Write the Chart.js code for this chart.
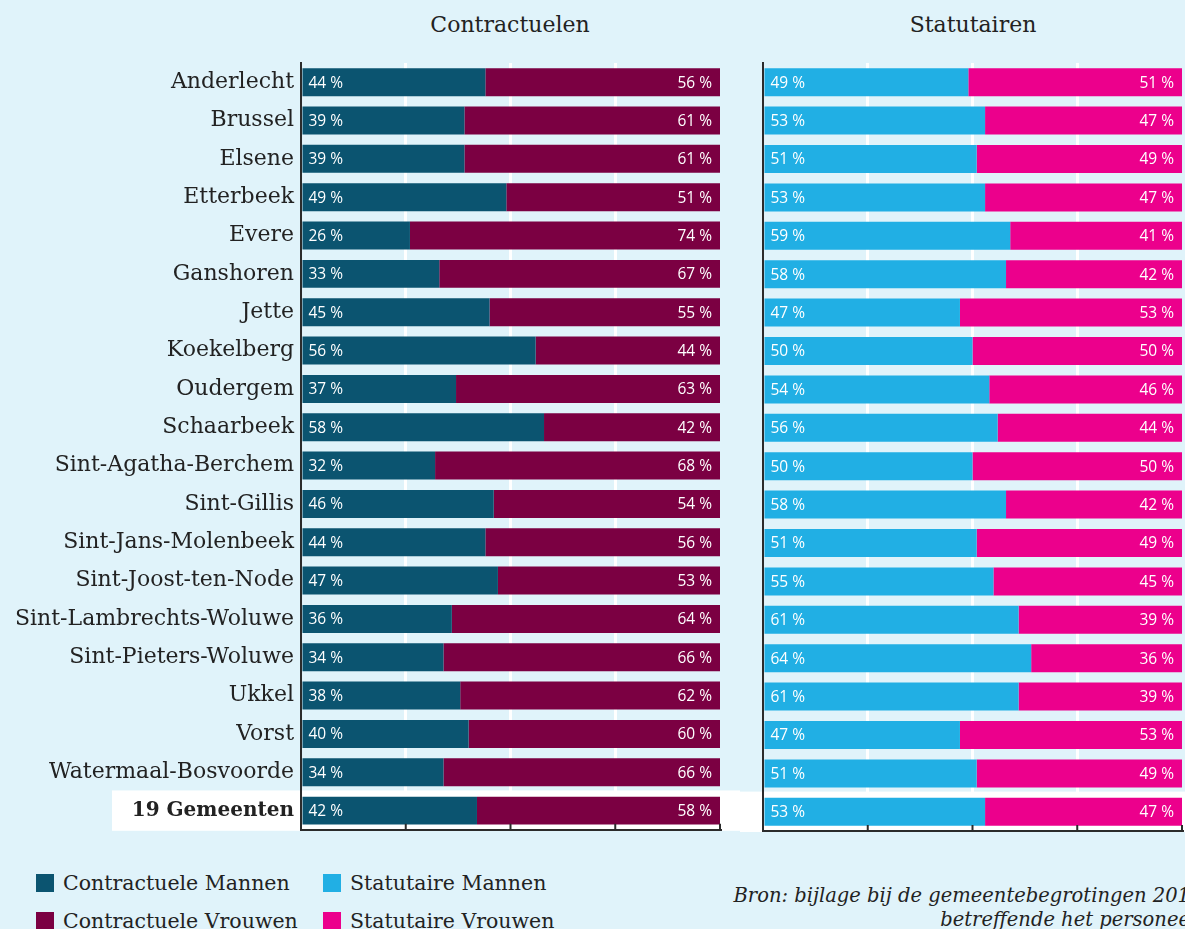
<!DOCTYPE html>
<html>
<head>
<meta charset="utf-8">
<script src="https://cdn.jsdelivr.net/npm/chart.js@4/dist/chart.umd.min.js"></script>
<style>
  html, body { margin: 0; padding: 0; }
  body { width: 1185px; height: 929px; background: #e0f3fa; position: relative; overflow: hidden; font-family: 'DejaVu Serif', serif; color: #222; }
  .wrap { position: absolute; top: 0; }
  .title { position: absolute; top: 11px; font-size: 22px; line-height: 28px; transform: translateX(-50%); white-space: nowrap; }
  .legend { position: absolute; font-size: 20.5px; line-height: 26px; white-space: nowrap; }
  .legend span.box { display: inline-block; width: 18px; height: 18px; vertical-align: -2px; margin-right: 9px; }
  .source { position: absolute; right: -5px; font-style: italic; font-size: 19.5px; text-align: right; line-height: 24px; white-space: nowrap; }
</style>
</head>
<body>
<div class="title" style="left:510px">Contractuelen</div>
<div class="title" style="left:973px">Statutairen</div>
<div class="wrap" style="left:0;width:740px;height:850px"><canvas id="leftChart"></canvas></div>
<div class="wrap" style="left:740px;width:445px;height:850px"><canvas id="rightChart"></canvas></div>
<div id="legend"></div>
<div class="source" style="top:884px">Bron: bijlage bij de gemeentebegrotingen 201<br>betreffende het personee</div>
<script>
var gemeenten = ['Anderlecht', 'Brussel', 'Elsene', 'Etterbeek', 'Evere', 'Ganshoren', 'Jette', 'Koekelberg',
                 'Oudergem', 'Schaarbeek', 'Sint-Agatha-Berchem', 'Sint-Gillis', 'Sint-Jans-Molenbeek',
                 'Sint-Joost-ten-Node', 'Sint-Lambrechts-Woluwe', 'Sint-Pieters-Woluwe', 'Ukkel', 'Vorst',
                 'Watermaal-Bosvoorde', '19 Gemeenten'];
var contractueleMannen  = [44, 39, 39, 49, 26, 33, 45, 56, 37, 58, 32, 46, 44, 47, 36, 34, 38, 40, 34, 42];
var contractueleVrouwen = [56, 61, 61, 51, 74, 67, 55, 44, 63, 42, 68, 54, 56, 53, 64, 66, 62, 60, 66, 58];
var statutaireMannen    = [49, 53, 51, 53, 59, 58, 47, 50, 54, 56, 50, 58, 51, 55, 61, 64, 61, 47, 51, 53];
var statutaireVrouwen   = [51, 47, 49, 47, 41, 42, 53, 50, 46, 44, 50, 42, 49, 45, 39, 36, 39, 53, 49, 47];
var xTicks = [0, 25, 50, 75, 100];

var COLORS = {
   contractMan: '#0b5470',
   contractWoman: '#7b0042',
   statMan: '#21afe4',
   statWoman: '#ec008c'
};
var AXIS = '#2b2b2b';

// white band behind the totals row
var totalBand = function totalBand(bandLeft) {
   return {
      id: 'totalBand',
      beforeDraw: function(chart) {
         var y = chart.scales.y;
         var step = (chart.chartArea.bottom - chart.chartArea.top) / gemeenten.length;
         var center = y.getPixelForValue(gemeenten.length - 1);
         var ctx = chart.ctx;
         ctx.save();
         ctx.fillStyle = '#ffffff';
         ctx.fillRect(bandLeft, center - step / 2 - 1, chart.width - bandLeft, chart.chartArea.bottom - center + step / 2 + 2);
         ctx.restore();
      }
   };
};

// percentage labels inside bars + inward tick marks
var barLabels = {
   id: 'barLabels',
   afterDatasetsDraw: function(chart) {
      var ctx = chart.ctx;
      ctx.save();
      ctx.font = '15.5px "Open Sans", sans-serif';
      ctx.fillStyle = '#ffffff';
      ctx.textBaseline = 'middle';
      chart.data.datasets.forEach(function(dataset, di) {
         chart.getDatasetMeta(di).data.forEach(function(bar, i) {
            var text = dataset.data[i] + ' %';
            if (di === 0) {
               ctx.textAlign = 'left';
               ctx.fillText(text, bar.base + 6, bar.y + 1);
            } else {
               ctx.textAlign = 'right';
               ctx.fillText(text, bar.x - 8, bar.y + 1);
            }
         });
      });
      ctx.restore();
   },
   afterDraw: function(chart) {
      var ctx = chart.ctx;
      var x = chart.scales.x;
      var bottom = chart.chartArea.bottom;
      ctx.save();
      ctx.strokeStyle = AXIS;
      ctx.lineWidth = 2;
      xTicks.forEach(function(v) {
         var px = x.getPixelForValue(v);
         ctx.beginPath();
         ctx.moveTo(px, bottom);
         ctx.lineTo(px, bottom - 6);
         ctx.stroke();
      });
      ctx.restore();
   }
};

var makeChart = function makeChart(canvasId, menLabel, womenLabel, men, women, menColor, womenColor, axisWidth, rightPad, showLabels, bandLeft) {
   return new Chart(document.getElementById(canvasId), {
      type: 'bar',
      data: {
         labels: gemeenten,
         datasets: [{
            label: menLabel,
            data: men,
            backgroundColor: menColor,
            barPercentage: 0.73,
            categoryPercentage: 1
         }, {
            label: womenLabel,
            data: women,
            backgroundColor: womenColor,
            barPercentage: 0.73,
            categoryPercentage: 1
         }]
      },
      options: {
         indexAxis: 'y',
         responsive: true,
         maintainAspectRatio: false,
         animation: false,
         layout: { padding: { top: 63, bottom: 19, left: 0, right: rightPad } },
         scales: {
            x: {
               stacked: true,
               min: 0,
               max: 100,
               afterBuildTicks: function(scale) {
                  scale.ticks = xTicks.map(v => ({ value: v }));
               },
               afterFit: function(scale) { scale.height = 0; },
               ticks: { display: false },
               grid: {
                  drawTicks: false,
                  lineWidth: 3,
                  color: ctx => (ctx.tick && (ctx.tick.value === 0 || ctx.tick.value === 100)) ? 'rgba(0,0,0,0)' : '#ffffff'
               },
               border: { display: true, color: AXIS, width: 2 }
            },
            y: {
               stacked: true,
               afterFit: function(scale) { scale.width = axisWidth; },
               grid: { display: false, drawTicks: false },
               border: { display: true, color: AXIS, width: 2 },
               ticks: {
                  display: showLabels,
                  padding: 7,
                  color: '#222222',
                  font: ctx => (ctx.index === gemeenten.length - 1
                     ? { family: 'DejaVu Serif', size: 20, weight: 'bold' }
                     : { family: 'DejaVu Serif', size: 22, weight: 'normal' })
               }
            }
         },
         plugins: {
            legend: { display: false },
            title: { display: false },
            tooltip: { enabled: false }
         }
      },
      plugins: [totalBand(bandLeft), barLabels]
   });
};

var leftChart = makeChart('leftChart', 'Contractuele Mannen', 'Contractuele Vrouwen',
   contractueleMannen, contractueleVrouwen, COLORS.contractMan, COLORS.contractWoman, 301, 20, true, 112);
var rightChart = makeChart('rightChart', 'Statutaire Mannen', 'Statutaire Vrouwen',
   statutaireMannen, statutaireVrouwen, COLORS.statMan, COLORS.statWoman, 23, 3, false, 0);

// legend
var legendItems = [
   { label: 'Contractuele Mannen', color: COLORS.contractMan, left: 36, top: 870 },
   { label: 'Contractuele Vrouwen', color: COLORS.contractWoman, left: 36, top: 908 },
   { label: 'Statutaire Mannen', color: COLORS.statMan, left: 323, top: 870 },
   { label: 'Statutaire Vrouwen', color: COLORS.statWoman, left: 323, top: 908 }
];
var legend = document.getElementById('legend');
legendItems.forEach(function(item) {
   var el = document.createElement('div');
   el.className = 'legend';
   el.style.left = item.left + 'px';
   el.style.top = item.top + 'px';
   el.innerHTML = '<span class="box" style="background:' + item.color + '"></span>' + item.label;
   legend.appendChild(el);
});
</script>
</body>
</html>
